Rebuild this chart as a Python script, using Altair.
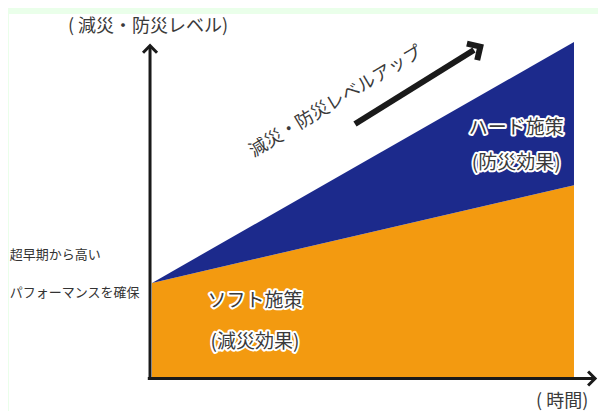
import altair as alt
import pandas as pd

# ---- data (levels) ----
time = [0, 10]
soft_level = [28.3, 57.4]   # ソフト施策 (減災効果)
hard_level = [28.3, 100.0]  # ハード施策 (防災効果) upper edge
base_level = [0, 0]

ORANGE = "#f39a10"
NAVY = "#1c2a8c"
INK = "#1a1a1a"
TXT = "#3a3a3a"
FONT = "Noto Sans CJK JP"

X_DOMAIN = [-3.389, 10.569]
Y_DOMAIN = [-9.82, 108.33]
xs = alt.Scale(domain=X_DOMAIN, nice=False, zero=False)
ys = alt.Scale(domain=Y_DOMAIN, nice=False, zero=False)

df = pd.DataFrame({"time": time, "soft": soft_level, "hard": hard_level, "base": base_level})

soft_area = alt.Chart(df).mark_area(color=ORANGE, opacity=1, line=False).encode(
    x=alt.X("time:Q", scale=xs, axis=None),
    y=alt.Y("base:Q", scale=ys, axis=None),
    y2="soft:Q",
)
hard_area = alt.Chart(df).mark_area(color=NAVY, opacity=1).encode(
    x=alt.X("time:Q", scale=xs, axis=None),
    y=alt.Y("soft:Q", scale=ys, axis=None),
    y2="hard:Q",
)

# ---- axes drawn as arrows ----
axis_rules = pd.DataFrame({
    "x": [-0.047, -0.10],
    "x2": [-0.047, 10.50],
    "y": [-0.6, -0.15],
    "y2": [98.3, -0.15],
})
axes = alt.Chart(axis_rules).mark_rule(color=INK, strokeWidth=3).encode(
    x=alt.X("x:Q", scale=xs, axis=None), x2="x2:Q",
    y=alt.Y("y:Q", scale=ys, axis=None), y2="y2:Q",
)
CHEVRON = "M-1,1L0,0L1,1"
heads = pd.DataFrame({"x": [-0.047, 10.50], "y": [98.9, -0.15], "ang": [0, 90]})
axis_heads = alt.Chart(heads).mark_point(
    shape=CHEVRON, filled=False, color=INK, strokeWidth=3, size=196, opacity=1,
    strokeJoin="miter",
).encode(
    x=alt.X("x:Q", scale=xs, axis=None),
    y=alt.Y("y:Q", scale=ys, axis=None),
    angle=alt.Angle("ang:Q", scale=None),
)

# ---- level-up arrow ----
up = pd.DataFrame({"x": [4.81], "y": [75.6], "x2": [7.63], "y2": [97.6]})
up_shaft = alt.Chart(up).mark_rule(color=INK, strokeWidth=6).encode(
    x=alt.X("x:Q", scale=xs, axis=None), x2="x2:Q",
    y=alt.Y("y:Q", scale=ys, axis=None), y2="y2:Q",
)
up_tip = pd.DataFrame({"x": [7.78], "y": [98.6], "ang": [58]})
up_head = alt.Chart(up_tip).mark_point(
    shape=CHEVRON, filled=False, color=INK, strokeWidth=6, size=380, opacity=1,
    strokeJoin="miter",
).encode(
    x=alt.X("x:Q", scale=xs, axis=None),
    y=alt.Y("y:Q", scale=ys, axis=None),
    angle=alt.Angle("ang:Q", scale=None),
)

# ---- texts ----
center_texts = pd.DataFrame({
    "label": ["( 減災・防災レベル)", "( 時間)", "減災・防災レベルアップ"],
    "x": [-0.095, 9.72, 4.36],
    "y": [104.5, -7.0, 82.1],
    "size": [18, 18, 18],
    "ang": [0, 0, 329],
})
center_layer = alt.Chart(center_texts).mark_text(
    font=FONT, color="#3a3a3a", align="center", baseline="middle"
).encode(
    x=alt.X("x:Q", scale=xs, axis=None),
    y=alt.Y("y:Q", scale=ys, axis=None),
    text="label:N",
    size=alt.Size("size:Q", scale=None),
    angle=alt.Angle("ang:Q", scale=None),
)

left_texts = pd.DataFrame({
    "label": ["超早期から高い", "パフォーマンスを確保"],
    "x": [-3.37, -3.37],
    "y": [36.6, 25.3],
})
left_layer = alt.Chart(left_texts).mark_text(
    font=FONT, color="#333333", align="left", baseline="middle", fontSize=13
).encode(
    x=alt.X("x:Q", scale=xs, axis=None),
    y=alt.Y("y:Q", scale=ys, axis=None),
    text="label:N",
)

effect_texts = pd.DataFrame({
    "label": ["ソフト施策", "(減災効果)", "ハード施策", "(防災効果)"],
    "x": [2.44, 2.44, 8.63, 8.63],
    "y": [22.9, 10.7, 74.4, 64.0],
})
effect_halo = alt.Chart(effect_texts).mark_text(
    font=FONT, color=TXT, stroke="white", strokeWidth=4, strokeJoin="round",
    align="center", baseline="middle", fontSize=19,
).encode(
    x=alt.X("x:Q", scale=xs, axis=None),
    y=alt.Y("y:Q", scale=ys, axis=None),
    text="label:N",
)
effect_fill = alt.Chart(effect_texts).mark_text(
    font=FONT, color=TXT, align="center", baseline="middle", fontSize=19,
).encode(
    x=alt.X("x:Q", scale=xs, axis=None),
    y=alt.Y("y:Q", scale=ys, axis=None),
    text="label:N",
)

chart = alt.layer(
    soft_area, hard_area, axes, axis_heads, up_shaft, up_head,
    center_layer, left_layer, effect_halo, effect_fill,
).properties(
    width=589,
    height=397,
    padding={"left": 1, "top": 6, "right": 0, "bottom": 0},
    autosize=alt.AutoSizeParams(type="none"),
    background="#eaffea",
).configure_view(fill="white", strokeWidth=0)

chart.save("out.html", embed_options={"renderer": "svg", "actions": False})
